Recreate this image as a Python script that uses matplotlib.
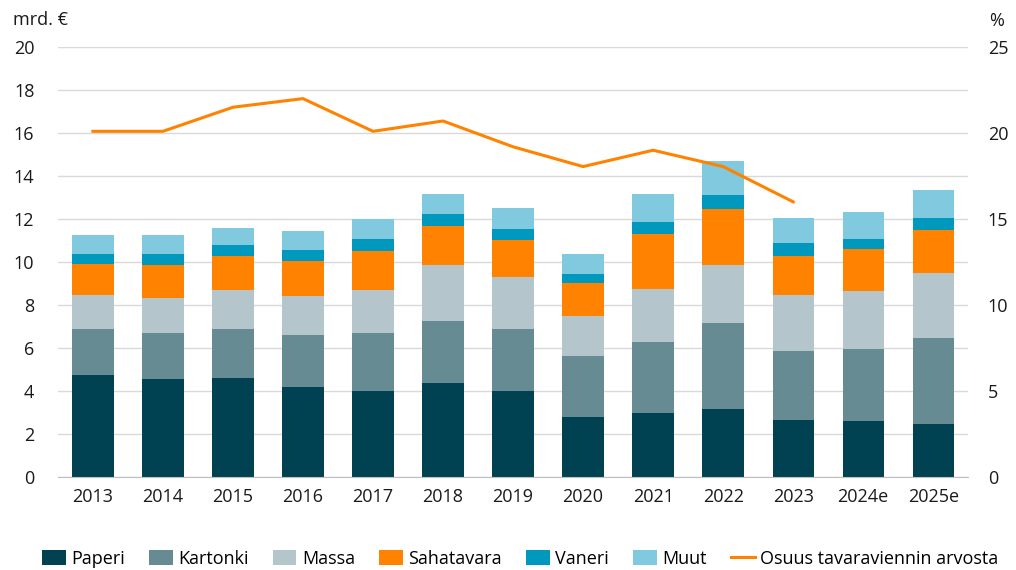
import matplotlib
matplotlib.use("Agg")
import matplotlib.pyplot as plt
import numpy as np

plt.rcParams['font.family'] = ['Open Sans', 'DejaVu Sans']

# Vuodet
years = ['2013', '2014', '2015', '2016', '2017', '2018', '2019',
         '2020', '2021', '2022', '2023', '2024e', '2025e']

# Kumulatiiviset yläreunat luettuna kuvasta (mrd. €)
paperi_top = [4.74, 4.54, 4.59, 4.20, 4.01, 4.36, 4.01, 2.81, 2.96, 3.16, 2.67, 2.62, 2.47]
kartonki_top = [6.87, 6.71, 6.91, 6.60, 6.71, 7.24, 6.91, 5.61, 6.28, 7.15, 5.86, 5.95, 6.48]
massa_top = [8.47, 8.31, 8.70, 8.42, 8.70, 9.86, 9.29, 7.50, 8.74, 9.86, 8.47, 8.65, 9.47]
saha_top = [9.89, 9.86, 10.28, 10.05, 10.53, 11.67, 11.01, 9.02, 11.29, 12.45, 10.28, 10.59, 11.49]
vaneri_top = [10.37, 10.37, 10.79, 10.56, 11.09, 12.25, 11.53, 9.46, 11.86, 13.13, 10.88, 11.09, 12.05]
muut_top = [11.24, 11.24, 11.58, 11.44, 12.00, 13.16, 12.50, 10.37, 13.18, 14.71, 12.06, 12.31, 13.36]

# Osuus tavaraviennin arvosta (%), ei ennusteita
osuus = [20.1, 20.1, 21.5, 22.0, 20.1, 20.7, 19.2, 18.05, 19.0, 18.05, 16.0]

names = ['Paperi', 'Kartonki', 'Massa', 'Sahatavara', 'Vaneri', 'Muut']
colors = ['#004152', '#678b93', '#b4c6cb', '#ff8200', '#0098bd', '#80c9de']

tops = [paperi_top, kartonki_top, massa_top, saha_top, vaneri_top, muut_top]
x = np.arange(len(years))

fig = plt.figure(figsize=(10.16, 5.7), dpi=100)
ax = fig.add_axes([0.057, 0.163, 0.896, 0.7545])

bottom = np.zeros(len(years))
handles = []
for name, col, top in zip(names, colors, tops):
    h = np.array(top) - bottom
    b = ax.bar(x, h, 0.59, bottom=bottom, color=col, label=name, zorder=2)
    handles.append(b)
    bottom = np.array(top)

ax.set_ylim(0, 20)
ax.set_yticks(np.arange(0, 21, 2))
ax.set_xlim(-0.5, len(years) - 0.5)
ax.set_xticks(x)
ax.set_xticklabels(years)
ax.grid(axis='y', color='#d9d9d9', linewidth=1, zorder=0)
ax.set_axisbelow(True)
for s in ['top', 'right', 'left']:
    ax.spines[s].set_visible(False)
ax.spines['bottom'].set_color('#bfbfbf')
ax.tick_params(axis='both', length=0, labelsize=13, colors='#1a1a1a')
ax.tick_params(axis='x', pad=8)
ax.tick_params(axis='y', pad=17)

ax2 = ax.twinx()
line, = ax2.plot(x[:len(osuus)], osuus, color='#ff8200', linewidth=2.2, zorder=3)
ax2.set_ylim(0, 25)
ax2.set_yticks(np.arange(0, 26, 5))
for s in ['top', 'right', 'left', 'bottom']:
    ax2.spines[s].set_visible(False)
ax2.tick_params(axis='y', length=0, labelsize=13, colors='#1a1a1a', pad=14)

fig.text(0.013, 0.965, 'mrd. €', fontsize=13, color='#1a1a1a', va='center')
fig.text(0.981, 0.963, '%', fontsize=13, color='#1a1a1a', va='center', ha='center')

leg = fig.legend(handles + [line], names + ['Osuus tavaraviennin arvosta'],
                 loc='center', bbox_to_anchor=(0.512, 0.02), ncol=7, frameon=False,
                 fontsize=13, handlelength=1.3, handleheight=0.9,
                 handletextpad=0.3, columnspacing=1.35)

fig.savefig('out.png', dpi=100)
